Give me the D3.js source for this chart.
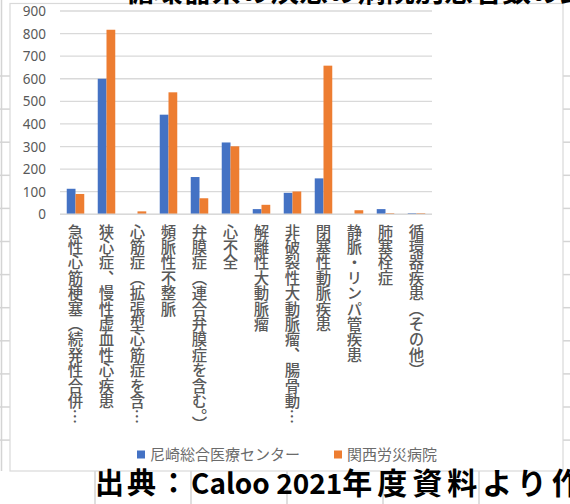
<!DOCTYPE html>
<html>
<head>
<meta charset="utf-8">
<script src="https://cdn.jsdelivr.net/npm/d3@7"></script>
<style>
html,body{margin:0;padding:0;background:#fff;}
svg{display:block;}
</style>
</head>
<body>
<svg id="c" width="570" height="504"></svg>
<script>
const categories = [
  "急性心筋梗塞（続発性合併…",
  "狭心症、慢性虚血性心疾患",
  "心筋症（拡張型心筋症を含…",
  "頻脈性不整脈",
  "弁膜症（連合弁膜症を含む。）",
  "心不全",
  "解離性大動脈瘤",
  "非破裂性大動脈瘤、腸骨動…",
  "閉塞性動脈疾患",
  "静脈・リンパ管疾患",
  "肺塞栓症",
  "循環器疾患（その他）"
];
const seriesNames = ["尼崎総合医療センター", "関西労災病院"];
const amagasaki = [113, 600, 0, 441, 165, 318, 23, 95, 159, 0, 23, 5];
const kansaiRosai = [90, 817, 13, 540, 71, 301, 42, 101, 658, 18, 5, 5];
const yTicks = [0, 100, 200, 300, 400, 500, 600, 700, 800, 900];
const sourceParts = ["出典：", "Caloo 2021", "年度資料より作成"];
const topTitle = "循環器系の疾患の病院別患者数の比較";

const colors = ["#4472C4", "#ED7D31"];
const series = [amagasaki, kansaiRosai];

const svg = d3.select("#c");

// spreadsheet background grid lines (outside chart object)
const cellLine = "#d4d4d4";
const rowYs = d3.range(12).map(i => 76 + i * 33.1);
const bg = svg.append("g");
bg.append("line").attr("x1",1.5).attr("x2",1.5).attr("y1",0).attr("y2",471).attr("stroke",cellLine).attr("stroke-width",1.5);
rowYs.forEach(yy => {
  bg.append("line").attr("x1",0).attr("x2",10).attr("y1",yy).attr("y2",yy).attr("stroke",cellLine).attr("stroke-width",1.5);
  bg.append("line").attr("x1",563).attr("x2",570).attr("y1",yy).attr("y2",yy).attr("stroke",cellLine).attr("stroke-width",1.5);
});
[95, 191, 287, 383, 479].forEach(xx => {
  bg.append("line").attr("x1",xx).attr("x2",xx).attr("y1",471).attr("y2",504).attr("stroke",cellLine).attr("stroke-width",1.5);
});

// chart object frame
svg.append("rect").attr("x",10).attr("y",3.5).attr("width",553).attr("height",467.5)
  .attr("fill","#fff").attr("stroke","#d9d9d9").attr("stroke-width",1.2);

// scales
const x0 = d3.scaleBand().domain(d3.range(categories.length)).range([60, 432]).paddingInner(0.435).paddingOuter(0.2175);
const x1 = d3.scaleBand().domain([0,1]).range([0, x0.bandwidth()]).padding(0);
const y = d3.scaleLinear().domain([0, 900]).range([214.3, 11]);

// gridlines
const grid = svg.append("g");
yTicks.forEach(t => {
  grid.append("line").attr("x1",60).attr("x2",432).attr("y1",y(t)).attr("y2",y(t))
    .attr("stroke","#d9d9d9").attr("stroke-width",1.3);
});

// y axis labels
const yAxis = d3.axisLeft(y).tickValues(yTicks).tickSize(0).tickPadding(0);
const ya = svg.append("g").attr("transform","translate(46,0)").call(yAxis);
ya.select(".domain").remove();
ya.selectAll("text").attr("font-family","'Noto Sans', 'DejaVu Sans', sans-serif")
  .attr("font-size","13.5px").attr("fill","#595959").attr("dy","0.34em");

// bars
const bars = svg.append("g");
series.forEach((vals, s) => {
  bars.selectAll(null).data(vals).enter().append("rect")
    .attr("x", (d,i) => x0(i) + x1(s))
    .attr("width", x1.bandwidth())
    .attr("y", d => y(d))
    .attr("height", d => y(0) - y(d))
    .attr("fill", colors[s]);
});

// baseline
svg.append("line").attr("x1",60).attr("x2",432).attr("y1",y(0)).attr("y2",y(0))
  .attr("stroke","#d9d9d9").attr("stroke-width",1.5);

// category labels (vertical)
const xa = svg.append("g");
categories.forEach((c, i) => {
  xa.append("text")
    .attr("x", x0(i) + x0.bandwidth()/2)
    .attr("y", 224)
    .style("writing-mode","vertical-rl")
    .attr("font-family","'Noto Sans CJK JP', sans-serif")
    .attr("font-size","15.4px")
    .attr("font-weight","500")
    .attr("fill","#595959")
    .text(c);
});

// legend
const lg = svg.append("g").attr("font-family","'Noto Sans CJK JP', sans-serif").attr("font-size","15px").attr("fill","#6b6b6b");
const legendX = [137, 334];
seriesNames.forEach((n, s) => {
  lg.append("rect").attr("x", legendX[s]).attr("y", 450.5).attr("width",8).attr("height",8).attr("fill",colors[s]);
  lg.append("text").attr("x", legendX[s] + 13).attr("y", 454.5).attr("dy","0.35em").text(n);
});

// top cut-off title (overlaps above chart)
svg.append("text").attr("x",125).attr("y",1.5)
  .attr("font-family","'Noto Sans CJK JP', sans-serif").attr("font-size","29px").attr("font-weight","bold")
  .attr("fill","#000").text(topTitle);

// source note
const src = svg.append("text").attr("x",95).attr("y",494)
  .attr("font-family","'Noto Sans CJK JP', sans-serif").attr("font-weight","bold").attr("fill","#000");
src.append("tspan").attr("font-size","29px").attr("letter-spacing","3px").text(sourceParts[0]);
src.append("tspan").attr("font-size","28px").attr("letter-spacing","0px").text(sourceParts[1]);
src.append("tspan").attr("font-size","30px").attr("letter-spacing","5px").text(sourceParts[2]);
</script>
</body>
</html>
